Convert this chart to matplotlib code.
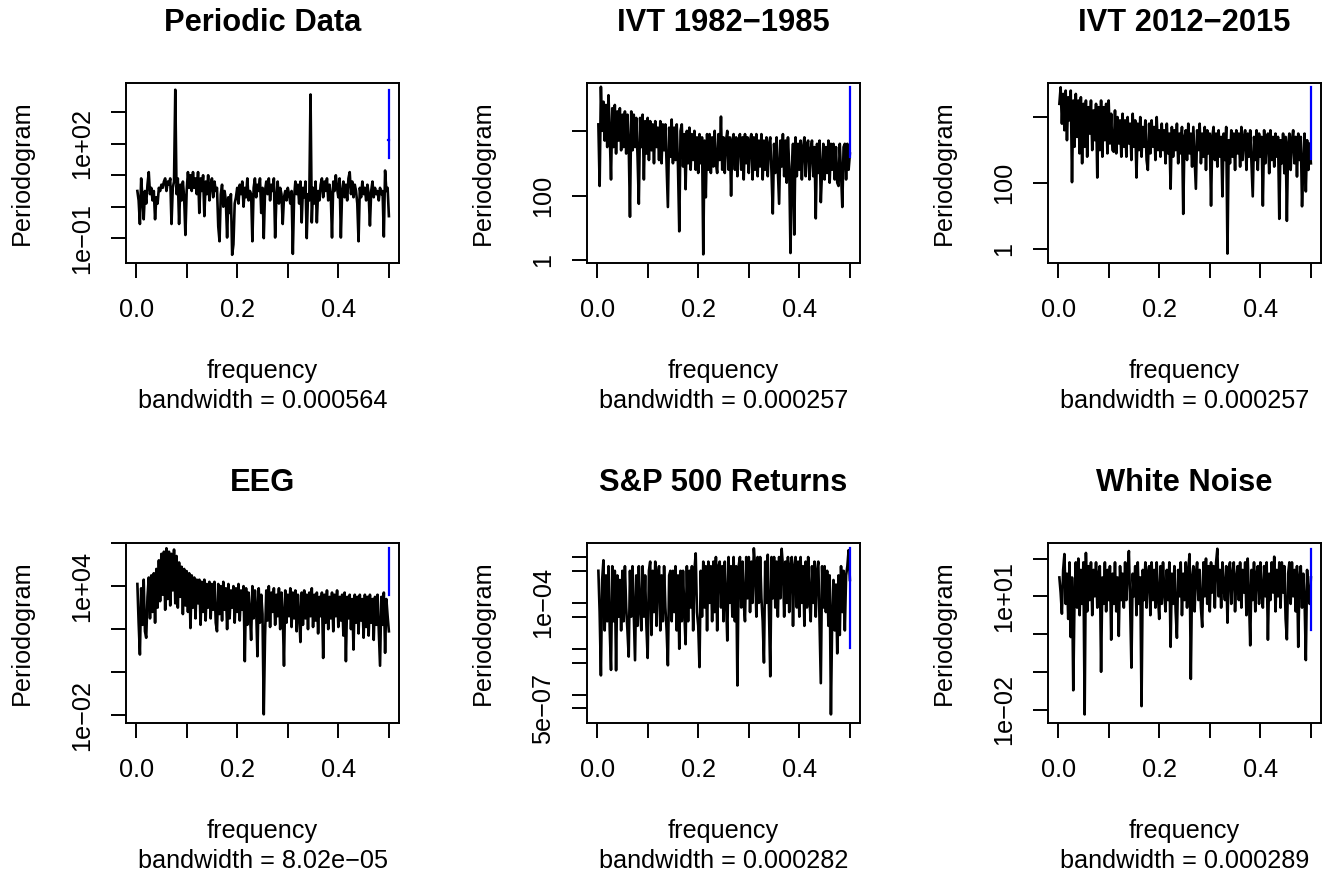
import numpy as np
import matplotlib.pyplot as plt
from matplotlib.ticker import NullLocator
from matplotlib.transforms import ScaledTranslation

plt.rcParams['font.family'] = ['Liberation Sans', 'DejaVu Sans']

titles = ["Periodic Data", "IVT 1982\u22121985", "IVT 2012\u22122015",
          "EEG", "S&P 500 Returns", "White Noise"]
bandwidths = [0.000564, 0.000257, 0.000257, 8.02e-05, 0.000282, 0.000289]
bandwidth_text = ["0.000564", "0.000257", "0.000257", "8.02e\u221205", "0.000282", "0.000289"]

# periodogram ordinates, as log10 values (200 per panel, freq 0 -> 0.5)
periodic_log10 = [
    0.5, 0.2, -0.55, 0.9, 0.3, -0.4, 0.5, 0.1, 0.7, 1.1,
    0.4, 0.6, 0.2, 0.5, -0.4, 0.3, 0.1, 0.6, 0.5, 0.7,
    0.6, 0.8, 0.9, 0.5, 0.8, 0.7, 0.9, -0.55, 0.6, 0.8,
    3.72, 0.4, 0.9, -0.55, 0.7, 0.2, 0.8, 0.3, -0.9, 0.5,
    1.1, 0.6, 1.0, 0.5, 1.1, 0.6, 0.9, 0.4, 1.1, -0.2,
    0.9, 0.5, 1.0, -0.3, 0.8, 0.4, 1.0, 0.2, 0.7, 0.9,
    0.3, 0.8, 0.5, 0.6, -0.63, -1.1, 0.4, 0.7, 0.0, 0.5,
    0.2, -0.98, 0.3, -0.2, 0.4, -1.53, -1.2, 0.1, 0.3, 0.6,
    0.1, 0.7, 0.4, 0.8, 0.0, 0.6, 0.3, 0.9, 0.2, 0.5,
    0.4, -1.1, 0.6, 0.9, 0.3, 0.7, 0.5, 0.9, -0.2, 0.6,
    -1.0, 0.5, 0.8, 0.4, 0.9, 0.2, 0.7, 0.5, 0.9, -0.98,
    0.3, 0.8, 0.1, 0.6, 0.4, -0.55, 0.3, 0.5, 0.2, 0.6,
    0.4, 0.1, 0.5, -1.5, 0.3, 0.8, 0.4, 0.7, 0.1, 0.8,
    -0.5, 0.6, 0.3, 0.8, -1.0, 0.4, 0.2, 3.57, -0.5, 0.6,
    0.1, 0.8, -0.5, 0.5, 0.2, 0.7, 0.9, 0.3, 0.8, 0.5,
    0.9, 0.2, 0.7, 0.4, -0.98, 0.8, 0.5, 1.0, 0.6, 0.3,
    0.9, -0.98, 0.5, 0.8, 0.3, 0.7, 0.2, 0.9, 1.1, 0.4,
    0.8, 0.3, 0.7, 0.5, 0.1, -1.1, 0.6, 0.3, 0.8, 0.4,
    0.6, 0.2, 0.7, 0.4, -0.6, 0.5, 0.8, 0.3, 0.6, 0.4,
    0.5, 0.2, 0.6, 0.4, 0.5, -0.95, 1.15, 0.5, 0.6, -0.3,
]
ivt82_log10 = [
    4.2, 2.3, 5.36, 4.0, 4.9, 3.7, 4.8, 3.5, 5.1, 3.9,
    2.5, 4.7, 3.5, 4.8, 3.3, 4.6, 3.7, 4.7, 3.4, 4.5,
    3.5, 4.6, 3.3, 4.5, 3.6, 1.35, 4.6, 3.4, 4.5, 3.5,
    4.4, 3.2, 1.75, 4.4, 3.5, 4.5, 2.5, 4.3, 3.3, 4.4,
    3.1, 4.3, 3.4, 4.2, 3.0, 4.3, 3.5, 4.1, 3.1, 4.3,
    3.0, 4.2, 3.4, 4.2, 2.9, 1.65, 4.1, 3.2, 4.35, 3.0,
    4.1, 3.1, 4.2, 2.9, 0.9, 4.0, 4.2, 2.9, 3.9, 2.2,
    4.0, 3.0, 4.1, 2.8, 3.9, 3.1, 4.0, 2.8, 3.8, 2.7,
    3.9, 3.0, 3.8, 0.19, 3.7, 1.95, 3.9, 2.8, 3.9, 2.7,
    3.8, 2.9, 4.0, 3.0, 2.7, 3.9, 3.1, 4.44, 2.8, 3.8,
    2.7, 3.7, 4.0, 2.8, 3.8, 2.0, 3.7, 3.9, 2.8, 3.8,
    2.6, 3.7, 3.9, 2.8, 3.8, 2.5, 3.9, 3.0, 3.8, 2.7,
    3.7, 3.9, 2.5, 3.8, 2.8, 3.9, 2.6, 3.7, 2.9, 3.9,
    2.5, 3.7, 2.8, 3.8, 2.6, 3.6, 3.8, 2.7, 1.45, 3.6,
    2.7, 3.8, 2.8, 1.75, 3.7, 2.9, 3.9, 2.6, 3.7, 2.4,
    3.8, 2.9, 0.23, 2.7, 3.6, 0.8, 3.8, 2.6, 3.6, 2.8,
    3.7, 2.5, 3.5, 3.8, 2.6, 3.6, 3.7, 2.5, 3.4, 3.7,
    2.6, 3.5, 1.3, 3.6, 2.7, 3.7, 1.8, 2.8, 3.6, 2.5,
    3.5, 2.7, 3.7, 2.4, 3.6, 2.8, 3.6, 2.5, 3.5, 2.4,
    2.3, 3.6, 2.7, 1.65, 3.5, 3.6, 2.5, 3.6, 2.8, 3.3,
]
ivt12_log10 = [
    4.4, 4.9, 3.8, 4.7, 3.6, 4.8, 3.3, 4.6, 3.9, 4.8,
    2.03, 4.5, 3.1, 4.7, 3.4, 4.5, 2.9, 4.6, 2.6, 4.4,
    3.1, 4.5, 2.8, 4.3, 3.5, 4.5, 3.0, 4.2, 3.3, 4.4,
    2.17, 4.3, 3.0, 4.5, 2.8, 4.3, 3.3, 4.4, 2.9, 4.5,
    3.2, 4.1, 3.0, 2.95, 4.2, 2.9, 4.0, 3.2, 3.9, 2.8,
    4.1, 3.1, 3.9, 2.8, 4.0, 3.2, 3.8, 2.7, 4.1, 3.1,
    3.9, 2.17, 3.8, 3.0, 4.0, 2.8, 3.7, 3.1, 3.9, 2.7,
    2.4, 3.8, 2.9, 3.9, 3.1, 3.7, 2.7, 4.0, 3.0, 3.6,
    2.8, 3.8, 3.0, 3.6, 2.6, 3.8, 2.9, 3.5, 1.83, 3.7,
    2.8, 3.6, 3.0, 3.8, 2.6, 3.5, 2.9, 3.7, 1.07, 3.4,
    3.6, 2.7, 3.8, 2.9, 3.5, 2.5, 3.7, 2.8, 1.83, 3.6,
    3.0, 3.8, 2.6, 3.5, 2.8, 3.7, 2.4, 3.6, 2.9, 3.5,
    1.32, 3.4, 3.7, 2.7, 3.5, 2.5, 3.6, 2.8, 3.4, 1.6,
    3.5, 2.7, 3.7, -0.13, 3.3, 2.6, 3.6, 2.8, 3.5, 2.4,
    3.6, 2.9, 3.5, 2.5, 3.7, 2.7, 3.4, 3.6, 2.4, 3.5,
    2.8, 3.6, 2.6, 1.6, 3.4, 2.7, 3.6, 2.4, 3.5, 2.8,
    3.4, 1.32, 3.6, 2.6, 3.3, 3.5, 2.3, 3.6, 2.7, 3.4,
    2.5, 3.5, 2.8, 3.4, 0.92, 3.3, 2.6, 3.5, 2.3, 3.4,
    0.86, 3.2, 3.5, 2.4, 3.3, 3.6, 2.6, 3.4, 2.2, 3.5,
    2.7, 3.4, 1.3, 2.6, 3.5, 1.75, 3.3, 2.4, 3.2, 2.6,
]
eeg_log10 = [
    4.1, 2.3, 0.82, 3.9, 2.2, 4.3, 1.9, 1.6, 3.5, 4.4,
    2.5, 4.5, 2.8, 4.6, 2.3, 4.8, 3.0, 5.2, 3.3, 5.5,
    3.6, 5.6, 2.9, 5.76, 3.4, 5.6, 3.1, 5.5, 3.8, 5.7,
    3.2, 5.4, 3.0, 5.1, 3.5, 4.9, 2.7, 4.8, 3.1, 4.7,
    2.8, 4.6, 2.05, 4.5, 3.0, 4.4, 2.5, 4.3, 3.2, 4.3,
    2.2, 4.2, 2.8, 4.3, 2.4, 4.1, 3.0, 4.2, 2.5, 4.1,
    2.9, 4.2, 2.3, 1.9, 4.1, 2.7, 4.0, 2.4, 4.2, 2.9,
    3.9, 2.0, 4.1, 2.5, 3.8, 3.0, 4.0, 2.3, 3.9, 2.8,
    4.1, 2.4, 3.8, 2.9, 4.0, 0.51, 3.9, 2.2, 3.7, 2.8,
    1.5, 4.0, 2.5, 3.8, 2.9, 0.74, 3.9, 2.3, 3.6, 2.7,
    -1.96, 1.67, 3.8, 2.4, 4.0, 2.1, 3.7, 2.8, 3.9, 2.2,
    3.6, 2.6, 3.9, 2.0, 3.7, 2.7, 0.3, 3.8, 2.3, 3.6,
    2.6, 3.9, 2.1, 3.7, 2.5, 3.8, 1.9, 3.6, 2.7, 1.4,
    3.7, 2.2, 3.8, 2.5, 3.6, 2.0, 3.7, 2.6, 3.9, 2.1,
    3.6, 2.4, 3.7, 1.8, 3.5, 2.6, 3.7, 0.66, 3.6, 2.3,
    3.8, 2.0, 3.5, 2.5, 3.7, 1.9, 3.6, 2.6, 3.8, 2.1,
    3.5, 2.4, 3.6, 1.7, 3.7, 0.51, 3.5, 2.5, 3.6, 2.0,
    3.4, 1.05, 3.6, 2.3, 3.5, 1.8, 3.6, 2.4, 3.4, 1.6,
    3.6, 2.1, 3.5, 1.7, 3.6, 2.3, 3.4, 1.5, 3.5, 2.2,
    3.6, 1.9, 0.3, 3.5, 2.2, 3.7, 0.9, 3.4, 2.6, 1.9,
]
sp500_log10 = [
    -3.3, -4.2, -5.58, -3.5, -3.07, -4.6, -3.4, -4.4, -3.2, -4.6,
    -5.46, -3.2, -4.4, -3.3, -5.47, -3.4, -4.3, -3.5, -4.6, -3.3,
    -4.4, -3.2, -4.1, -4.6, -5.17, -3.3, -4.3, -3.2, -4.2, -5.25,
    -3.4, -4.5, -3.2, -4.1, -4.6, -3.2, -4.3, -3.4, -4.5, -5.2,
    -3.3, -3.1, -4.7, -3.3, -4.2, -3.1, -4.5, -3.4, -3.2, -4.6,
    -3.4, -4.4, -3.2, -4.1, -4.6, -5.36, -3.4, -3.3, -4.4, -3.3,
    -4.2, -3.2, -4.6, -3.4, -5.0, -3.3, -4.4, -3.3, -4.2, -4.9,
    -3.2, -4.4, -3.3, -4.1, -3.2, -4.6, -3.3, -2.92, -4.2, -4.5,
    -5.4, -3.3, -4.3, -3.1, -4.1, -3.2, -4.6, -3.1, -4.0, -3.2,
    -4.4, -3.1, -4.2, -3.0, -4.6, -3.2, -3.1, -4.1, -3.2, -4.4,
    -3.1, -3.9, -4.82, -3.0, -4.0, -3.2, -4.3, -3.0, -4.4, -3.2,
    -5.8, -3.2, -3.0, -4.1, -3.1, -4.0, -4.4, -3.0, -3.9, -3.0,
    -4.2, -3.1, -4.0, -2.81, -3.2, -4.3, -3.0, -4.0, -3.0, -3.9,
    -4.4, -5.3, -3.1, -4.0, -2.95, -4.2, -5.6, -3.0, -3.9, -3.0,
    -4.1, -3.1, -4.3, -3.0, -3.9, -2.82, -3.2, -4.3, -3.1, -4.0,
    -3.0, -4.2, -3.2, -3.0, -4.5, -3.2, -3.0, -4.1, -3.1, -4.3,
    -3.0, -4.0, -3.2, -4.5, -3.1, -4.1, -3.0, -3.9, -4.4, -3.2,
    -4.0, -3.1, -4.3, -3.3, -3.1, -4.4, -5.75, -3.2, -4.1, -3.2,
    -4.2, -3.3, -4.5, -3.4, -6.43, -4.3, -3.5, -4.6, -3.6, -5.1,
    -3.4, -4.7, -3.2, -4.2, -3.3, -4.6, -3.4, -3.2, -2.85, -3.5,
]
noise_log10 = [
    1.5, 1.1, 0.54, 1.7, 2.12, 0.8, 1.6, 0.4, 1.9, -0.08,
    1.5, -1.49, 1.0, 1.9, 0.7, 2.0, 0.5, 1.7, 0.8, 1.9,
    -2.13, 2.15, 0.6, 1.8, 0.9, 1.9, 0.5, 1.7, 1.0, 1.9,
    0.7, 1.6, 1.8, -1.0, 1.5, 0.8, 1.9, 0.6, 1.7, 0.9,
    1.8, -0.15, 1.6, 0.8, 1.9, 0.6, 1.5, -0.05, 1.8, 0.9,
    1.6, 0.7, 1.9, 0.9, 1.7, 2.2, 0.8, -0.89, 1.6, 1.0,
    1.8, 0.5, 1.9, 0.8, 1.5, -1.91, 1.7, 0.9, 1.9, 0.7,
    1.6, 1.8, 0.5, 1.9, 0.9, 1.7, 0.7, 1.9, 1.0, 0.4,
    1.8, 0.8, 1.9, 1.1, 0.6, 1.7, 0.9, 1.9, -0.34, 1.6,
    0.8, 1.8, 0.6, -0.1, 1.7, 1.0, 1.9, 0.5, 1.6, 0.9,
    1.9, 0.7, 1.7, 2.12, -1.19, 1.5, 1.8, 0.6, 1.6, 1.9,
    0.9, 1.7, 0.7, 0.19, 1.9, 1.0, 2.0, 0.8, 1.8, 0.6,
    1.9, 1.1, 1.8, 0.7, 1.9, 2.26, 1.0, 1.7, 0.7, 1.9,
    1.2, 0.9, 1.8, 0.3, 1.7, 1.9, 0.8, 1.6, 1.9, 0.6,
    1.5, 1.8, 0.9, 1.9, 0.7, 1.7, 1.1, 1.9, 0.5, 2.0,
    1.0, -0.3, 1.7, 0.9, 1.9, 0.6, 1.6, 1.8, 0.8, 1.9,
    1.1, 0.7, 1.8, 1.0, 1.9, -0.15, 1.6, 0.9, 1.9, 1.1,
    2.05, 0.6, 1.7, 1.0, 1.9, 0.7, 1.9, 1.1, 1.8, 0.4,
    -0.14, 1.6, 1.9, 0.8, 1.9, 1.0, 1.7, 0.6, 1.8, -0.34,
    1.5, 1.8, 0.7, 1.6, 0.9, -0.69, 1.7, 1.0, 0.8, 1.5,
]
series = [periodic_log10, ivt82_log10, ivt12_log10, eeg_log10, sp500_log10, noise_log10]

xticks = [0.0, 0.1, 0.2, 0.3, 0.4, 0.5]
xtick_labels = ["0.0", "", "0.2", "", "0.4", ""]
yticks = [
    [1e-1, 1e0, 1e1, 1e2, 1e3],
    [1e0, 1e2, 1e4],
    [1e0, 1e2, 1e4],
    [1e-2, 1e0, 1e2, 1e4, 1e6],
    [5e-7, 1e-6, 5e-6, 1e-5, 5e-5, 1e-4, 5e-4, 1e-3],
    [1e-2, 1e-1, 1e0, 1e1, 1e2],
]
ytick_labels = [
    ["1e\u221201", "", "", "1e+02", ""],
    ["1", "100", ""],
    ["1", "100", ""],
    ["1e\u221202", "", "", "1e+04", ""],
    ["5e\u221207", "", "", "", "", "1e\u221204", "", ""],
    ["1e\u221202", "", "", "1e+01", ""],
]
ylims_log10 = [(-1.775, 3.935), (-0.062, 5.477), (-0.40, 5.03),
               (-2.34, 6.005), (-6.607, -2.694), (-2.344, 2.413)]

# chi-square(2) 95% interval factors used for the blue CI bar
ci_lo, ci_hi = 2 / 7.377759, 2 / 0.050636

W, H = 1327, 875
col_left = [126, 587, 1048]
row_top = [83, 543]
box_w, box_h = 273, 179.5
line = 30.4  # margin line height in px
lw = 1.9
fs = 18.2

fig = plt.figure(figsize=(W / 100, H / 100), dpi=100)


def shift(dx, dy, base):
    return base + ScaledTranslation(dx / 100, dy / 100, fig.dpi_scale_trans)


for k in range(6):
    r, c = divmod(k, 3)
    ax = fig.add_axes([col_left[c] / W, 1 - (row_top[r] + box_h) / H, box_w / W, box_h / H])
    spec = 10 ** np.array(series[k])
    n = len(spec)
    freq = np.arange(1, n + 1) * 0.5 / n
    ax.plot(freq, spec, color='black', lw=lw)

    conf_y = spec.max() / ci_hi
    cx = freq.max() - bandwidths[k]
    ax.plot([cx, cx], [conf_y * ci_lo, conf_y * ci_hi], color='#0000ff', lw=1.6)
    ax.plot([cx - bandwidths[k] / 2, cx + bandwidths[k] / 2], [conf_y, conf_y], color='#0000ff', lw=1.6)

    ax.set_yscale('log')
    ax.set_xlim(-0.02, 0.52)
    ax.set_ylim(10 ** ylims_log10[k][0], 10 ** ylims_log10[k][1])
    ax.set_xticks(xticks)
    ax.set_yticks(yticks[k])
    ax.yaxis.set_minor_locator(NullLocator())
    ax.xaxis.set_minor_locator(NullLocator())
    ax.set_xticklabels([])
    ax.set_yticklabels([])
    ax.tick_params(direction='out', length=10.8, width=1.4, color='black')
    for s in ax.spines.values():
        s.set_linewidth(1.4)

    xt = shift(0, -1.8 * line, ax.get_xaxis_transform())
    for v, s in zip(xticks, xtick_labels):
        if s:
            ax.text(v, 0, s, transform=xt, ha='center', va='baseline', fontsize=fs)
    yt = shift(-1.2 * line, 0, ax.get_yaxis_transform())
    for v, s in zip(yticks[k], ytick_labels[k]):
        if s:
            ax.text(0, v, s, transform=yt, ha='center', va='baseline', rotation=90,
                    rotation_mode='anchor', fontsize=fs)

    ax.text(0.5, 0, "frequency", transform=shift(0, -3.8 * line, ax.transAxes),
            ha='center', va='baseline', fontsize=fs)
    ax.text(0.5, 0, "bandwidth = " + bandwidth_text[k],
            transform=shift(0, -4.8 * line, ax.transAxes),
            ha='center', va='baseline', fontsize=fs)
    ax.text(0, 0.5, "Periodogram", transform=shift(-3.2 * line, 0, ax.transAxes),
            ha='center', va='baseline', rotation=90, rotation_mode='anchor', fontsize=fs)
    ax.text(0.5, 1, titles[k], transform=shift(0, 52, ax.transAxes),
            ha='center', va='baseline', fontsize=fs * 1.22, fontweight='bold')

fig.savefig("out.png", dpi=100)
